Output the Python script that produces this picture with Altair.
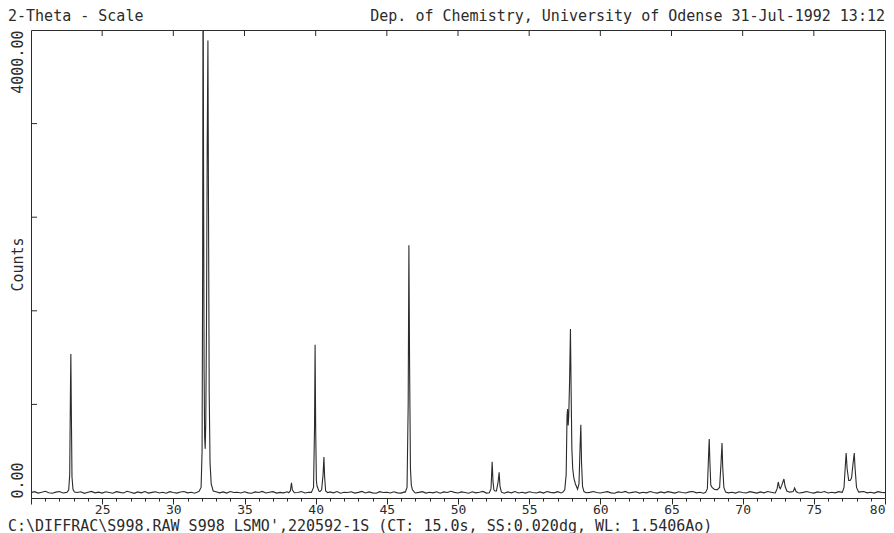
import altair as alt
import pandas as pd

# ---------------- data ----------------
header_left = "2-Theta - Scale"
header_right = "Dep. of Chemistry, University of Odense 31-Jul-1992 13:12"
footer = "C:\\DIFFRAC\\S998.RAW S998 LSMO',220592-1S (CT: 15.0s, SS:0.020dg, WL: 1.5406Ao)"

# background counts, every 0.25 deg from 20.00 to 80.00
base_start = 20.0
base_step = 0.25
base_counts = [
    46, 54, 42, 49, 57, 45, 41, 50, 55, 43, 48, 58, 42, 47, 53, 40, 49, 56, 44, 50,
    42, 53, 47, 41, 54, 48, 43, 57, 49, 40, 52, 44, 55, 42, 48, 53, 43, 49, 41, 54,
    47, 42, 52, 56, 44, 49, 41, 53, 47, 57, 48, 43, 54, 44, 52, 42, 55, 47, 49, 43,
    53, 44, 41, 52, 47, 56, 43, 49, 54, 42, 48, 44, 53, 41, 52, 47, 55, 43, 49, 44,
    42, 54, 48, 43, 52, 44, 55, 41, 49, 47, 53, 42, 48, 56, 43, 52, 44, 41, 54, 47,
    49, 43, 53, 44, 42, 52, 47, 55, 43, 48, 54, 42, 49, 44, 53, 41, 52, 47, 57, 48,
    43, 52, 47, 41, 53, 44, 49, 56, 42, 48, 43, 54, 47, 41, 52, 44, 55, 43, 49, 42,
    53, 47, 43, 52, 42, 55, 48, 44, 54, 43, 49, 47, 41, 53, 44, 52, 42, 48, 55, 47,
    43, 49, 54, 44, 41, 52, 47, 56, 43, 48, 53, 42, 49, 44, 55, 47, 42, 52, 44, 54,
    48, 42, 53, 47, 43, 52, 55, 44, 49, 41, 54, 47, 43, 52, 48, 56, 44, 49, 42, 53,
    47, 43, 54, 48, 42, 52, 44, 55, 49, 43, 53, 47, 41, 52, 44, 54, 43, 48, 56, 47,
    42, 52, 47, 55, 43, 49, 44, 54, 48, 42, 53, 47, 43, 52, 55, 44, 49, 42, 54, 48,
    46,
]

# reflection groups: (2-theta, counts)
peak_100 = [(22.55, 50), (22.65, 70), (22.72, 200), (22.77, 900), (22.80, 1230),
            (22.83, 800), (22.88, 180), (22.95, 75), (23.05, 52)]
peak_110 = [(31.80, 55), (31.95, 90), (32.02, 400), (32.06, 2000), (32.09, 4900),
            (32.12, 3000), (32.16, 1100), (32.20, 520), (32.24, 420), (32.28, 650),
            (32.33, 1500), (32.38, 3000), (32.43, 3910), (32.47, 2500), (32.52, 900),
            (32.58, 300), (32.66, 120), (32.80, 60)]
peak_383 = [(38.10, 45), (38.22, 60), (38.30, 130), (38.36, 70), (38.50, 45)]
peak_111 = [(39.70, 48), (39.85, 90), (39.92, 600), (39.96, 1310), (40.00, 600),
            (40.05, 150), (40.10, 100), (40.15, 85), (40.22, 60), (40.30, 55),
            (40.42, 70), (40.52, 200), (40.58, 350), (40.63, 180), (40.70, 60),
            (40.85, 45)]
peak_200 = [(46.30, 50), (46.42, 90), (46.50, 800), (46.55, 2160), (46.60, 1100),
            (46.66, 250), (46.72, 110), (46.80, 70), (46.95, 48)]
peak_210 = [(52.20, 45), (52.32, 80), (52.40, 310), (52.46, 140), (52.52, 70),
            (52.60, 60), (52.70, 60), (52.82, 140), (52.89, 220), (52.95, 100),
            (53.05, 50)]
peak_211 = [(57.35, 48), (57.50, 70), (57.60, 200), (57.66, 700), (57.70, 760),
            (57.74, 620), (57.78, 700), (57.84, 1000), (57.90, 1445), (57.95, 900),
            (58.00, 420), (58.06, 250), (58.14, 170), (58.25, 120), (58.40, 75),
            (58.50, 120), (58.58, 450), (58.63, 625), (58.68, 300), (58.75, 100),
            (58.85, 55), (59.00, 45)]
peak_220 = [(67.40, 48), (67.52, 80), (67.60, 350), (67.65, 505), (67.70, 300),
            (67.76, 110), (67.85, 90), (68.00, 75), (68.20, 70), (68.38, 90),
            (68.48, 300), (68.55, 470), (68.60, 260), (68.68, 90), (68.80, 50)]
peak_221 = [(72.30, 45), (72.42, 80), (72.50, 137), (72.58, 90), (72.65, 80),
            (72.75, 110), (72.90, 162), (72.98, 100), (73.10, 60), (73.30, 50),
            (73.55, 55), (73.65, 85), (73.75, 55), (73.90, 45)]
peak_310 = [(77.00, 48), (77.12, 90), (77.20, 250), (77.27, 385), (77.34, 250),
            (77.45, 150), (77.55, 150), (77.65, 170), (77.75, 290), (77.84, 385),
            (77.90, 250), (78.00, 90), (78.15, 50)]

peaks = [peak_100, peak_110, peak_383, peak_111, peak_200, peak_210,
         peak_211, peak_220, peak_221, peak_310]

top_tick_values = [25, 30, 35, 40, 45, 50, 55, 60, 65, 70, 75]
left_tick_values = [800, 1600, 2400, 3200]

# ---------------- assemble the pattern ----------------
points = []
for i, c in enumerate(base_counts):
    x = base_start + i * base_step
    if any(g[0][0] <= x <= g[-1][0] for g in peaks):
        continue
    points.append((x, c))
for g in peaks:
    points.extend(g)
points.sort()
df = pd.DataFrame(points, columns=["two_theta", "counts"])

FONT = "DejaVu Sans Mono"
INK = "#2b2b2b"
FS = 15

xscale = alt.Scale(domain=[20, 80], nice=False, zero=False)
yscale = alt.Scale(domain=[0, 4000], nice=False, zero=False)

x_axis = alt.Axis(
    values=list(range(20, 81)),
    labelExpr="datum.value % 5 == 0 && datum.value > 20 ? format(datum.value, 'd') : ''",
    labelAlign={"condition": {"test": "datum.value >= 80", "value": "right"}, "value": "center"},
    tickSize={"condition": {"test": "datum.value % 5 == 0", "value": 6}, "value": 3},
    tickColor=INK, tickWidth=1,
    labelFont=FONT, labelFontSize=13, labelColor=INK, labelPadding=-1,
    labelOverlap=False, labelFlush=False, labelBound=False,
    domain=False, grid=False, title=None,
)

y_axis = alt.Axis(
    values=[0, 4000],
    labelExpr="format(datum.value, '.2f')",
    labelAngle=270,
    labelAlign={"condition": {"test": "datum.value <= 0", "value": "left"}, "value": "right"},
    labelBaseline="bottom",
    labelFont=FONT, labelFontSize=FS, labelColor=INK, labelPadding=6,
    labelOverlap=False, labelFlush=False, labelBound=False,
    ticks=False, tickSize=0, domain=False, grid=False,
    title="Counts", titleFont=FONT, titleFontSize=FS, titleFontWeight="normal",
    titleColor=INK, titleAngle=270, titleX=-6, titleY=234,
    titleAlign="center", titleBaseline="bottom",
)

line = alt.Chart(df).mark_line(color=INK, strokeWidth=1.1, clip=True).encode(
    x=alt.X("two_theta:Q", scale=xscale, axis=x_axis),
    y=alt.Y("counts:Q", scale=yscale, axis=y_axis),
)

top_ticks = alt.Chart(pd.DataFrame({"t": top_tick_values})).mark_rule(
    color=INK, strokeWidth=1
).encode(
    x=alt.X("t:Q", scale=xscale, axis=x_axis),
    y=alt.value(0), y2=alt.value(6),
)

left_ticks = alt.Chart(pd.DataFrame({"v": left_tick_values})).mark_rule(
    color=INK, strokeWidth=1
).encode(
    y=alt.Y("v:Q", scale=yscale, axis=y_axis),
    x=alt.value(0), x2=alt.value(6),
)

def text_layer(s, x, y, align):
    return alt.Chart(pd.DataFrame({"s": [s]})).mark_text(
        font=FONT, fontSize=FS, color=INK, align=align, baseline="alphabetic"
    ).encode(text="s:N", x=alt.value(x), y=alt.value(y))

hl = text_layer(header_left, -23, -9, "left")
hr = text_layer(header_right, 854, -9, "right")
ft = text_layer(footer, -23, 500.5, "left")

chart = alt.layer(line, top_ticks, left_ticks, hl, hr, ft).properties(
    width=854, height=468,
    padding={"left": 23, "top": 22, "right": 1, "bottom": 35},
    autosize=alt.AutoSizeParams(type="none"),
    background="white",
).configure_view(stroke=INK, strokeWidth=1)

chart.save("out.html", embed_options={"renderer": "svg", "actions": False})
